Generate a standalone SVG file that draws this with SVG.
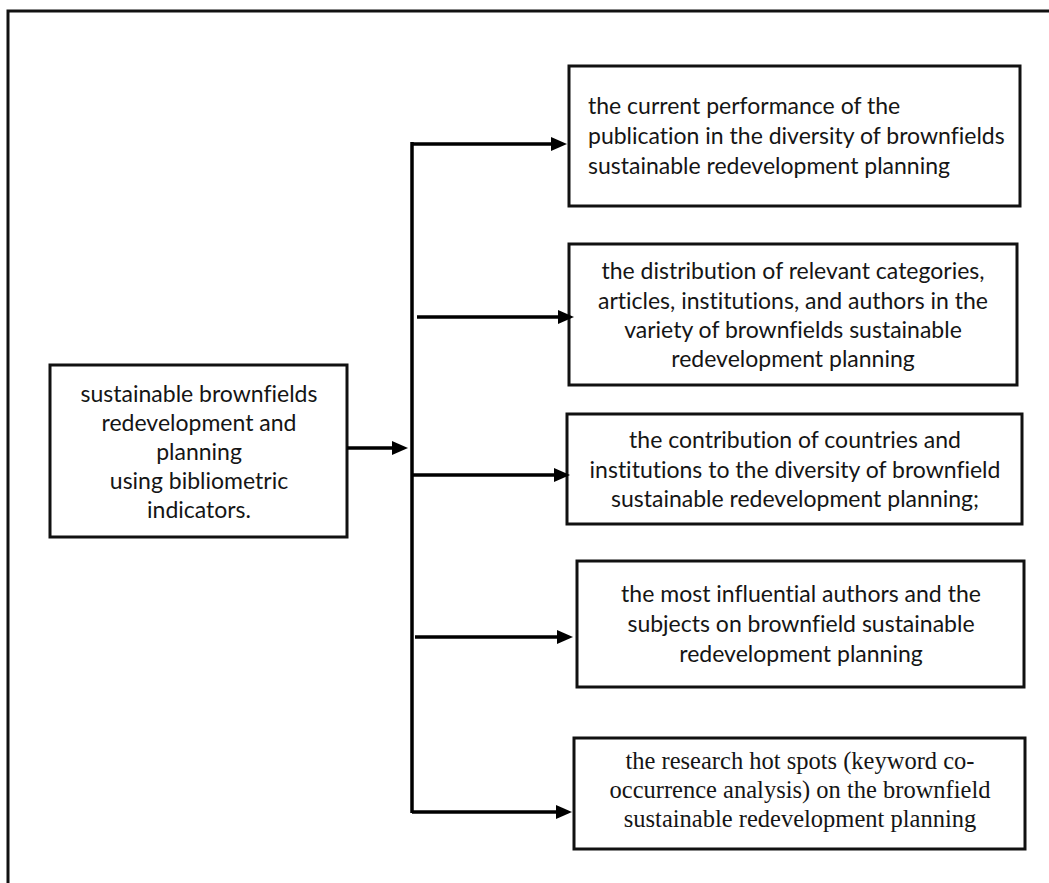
<svg xmlns="http://www.w3.org/2000/svg" width="1049" height="883" viewBox="0 0 1049 883">
<style>
.box{fill:#fff;stroke:#111;stroke-width:3}
.t{font-family:Lato,"Open Sans",sans-serif;font-size:23px;fill:#151515;font-variant-ligatures:none;font-feature-settings:"liga" 0,"dlig" 0}
.s{font-family:"Liberation Serif",serif;font-size:24.5px;fill:#151515}
.c{text-anchor:middle}
.ln{stroke:#000;stroke-width:3.5;fill:none}
</style>
<defs>
<marker id="ah" markerUnits="userSpaceOnUse" markerWidth="16" markerHeight="14" refX="9" refY="7" orient="auto">
<path d="M0,0 L16,7 L0,14 z" fill="#000"/>
</marker>
</defs>
<rect width="1049" height="883" fill="#fff"/>
<path d="M8,883 V11 H1049" fill="none" stroke="#111" stroke-width="3"/>
<g id="main">
<rect class="box" x="50" y="365" width="297" height="172"/>
<text class="t c" x="199" y="402">sustainable brownfields</text>
<text class="t c" x="199" y="431">redevelopment and</text>
<text class="t c" x="199" y="460">planning</text>
<text class="t c" x="199" y="489">using bibliometric</text>
<text class="t c" x="199" y="518">indicators.</text>
</g>
<g id="n1">
<rect class="box" x="569" y="66" width="451" height="140"/>
<text class="t" x="588" y="114">the current performance of the</text>
<text class="t" x="588" y="144">publication in the diversity of brownfields</text>
<text class="t" x="588" y="174">sustainable redevelopment planning</text>
</g>
<g id="n2">
<rect class="box" x="569" y="244" width="448" height="141"/>
<text class="t c" x="793" y="279">the distribution of relevant categories,</text>
<text class="t c" x="793" y="309">articles, institutions, and authors in the</text>
<text class="t c" x="793" y="338">variety of brownfields sustainable</text>
<text class="t c" x="793" y="367">redevelopment planning</text>
</g>
<g id="n3">
<rect class="box" x="567" y="414" width="455" height="110"/>
<text class="t c" x="795" y="448">the contribution of countries and</text>
<text class="t c" x="795" y="478">institutions to the diversity of brownfield</text>
<text class="t c" x="795" y="507">sustainable redevelopment planning;</text>
</g>
<g id="n4">
<rect class="box" x="577" y="561" width="447" height="126"/>
<text class="t c" x="801" y="602">the most influential authors and the</text>
<text class="t c" x="801" y="632">subjects on brownfield sustainable</text>
<text class="t c" x="801" y="662">redevelopment planning</text>
</g>
<g id="n5">
<rect class="box" x="574" y="738" width="451" height="111"/>
<text class="s c" x="800" y="769">the research hot spots (keyword co-</text>
<text class="s c" x="800" y="798">occurrence analysis) on the brownfield</text>
<text class="s c" x="800" y="827">sustainable redevelopment planning</text>
</g>
<g id="connectors">
<line class="ln" x1="412" y1="142" x2="412" y2="813"/>
<line class="ln" x1="347" y1="448" x2="401" y2="448" marker-end="url(#ah)"/>
<line class="ln" x1="412" y1="144" x2="560" y2="144" marker-end="url(#ah)"/>
<line class="ln" x1="417" y1="317" x2="567" y2="317" marker-end="url(#ah)"/>
<line class="ln" x1="412" y1="475" x2="563" y2="475" marker-end="url(#ah)"/>
<line class="ln" x1="415" y1="637" x2="566" y2="637" marker-end="url(#ah)"/>
<line class="ln" x1="412" y1="812" x2="565" y2="812" marker-end="url(#ah)"/>
</g>
</svg>
